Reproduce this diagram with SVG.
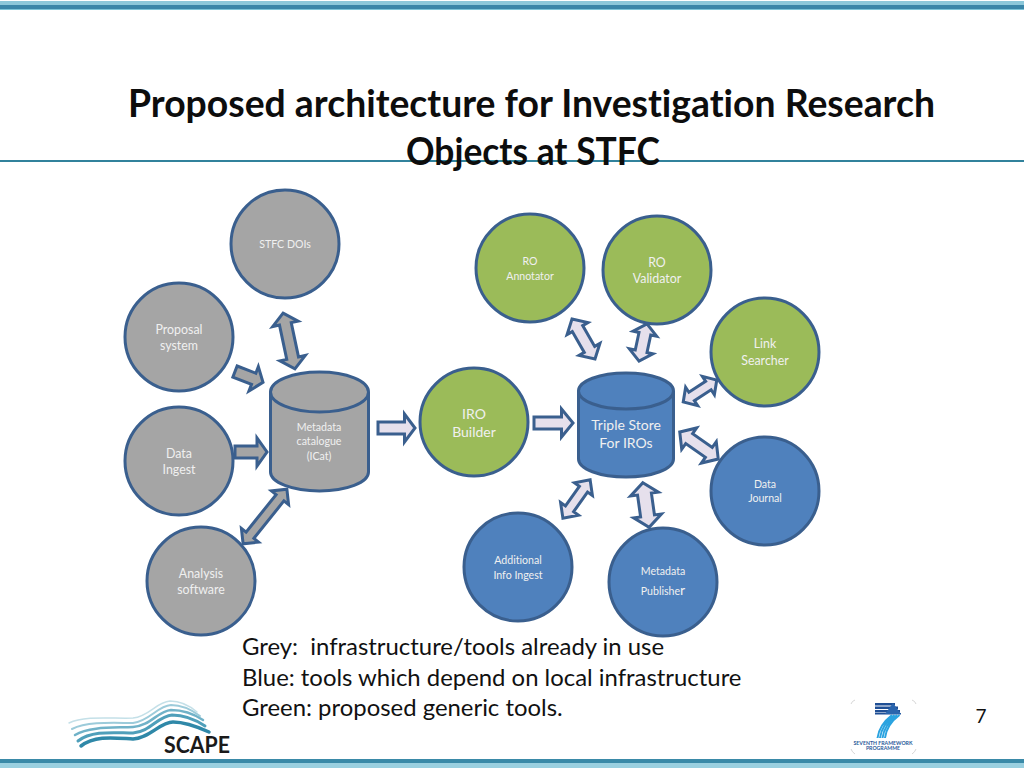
<svg xmlns="http://www.w3.org/2000/svg" width="1024" height="768" viewBox="0 0 1024 768">
<style>
text{font-family:"Lato","Liberation Sans",sans-serif;text-anchor:middle;white-space:pre;font-variant-ligatures:none}
.t{font-size:37.2px;font-weight:700;fill:#0d0d0d}
.l{font-size:23.9px;fill:#111;text-anchor:start}
.n{stroke:#3a5f8e;stroke-width:3}
.g{fill:#a5a5a5}.v{fill:#9bbb59}.b{fill:#4f81bd}.p{fill:#e6e0ec}
.w{fill:#f0f0f0}
.s{font-size:10.6px}.h{font-size:12.4px}
.wave{fill:none;stroke-linecap:round}
.c{fill:none;stroke:#ccc;stroke-width:.8}
</style>
<rect width="1024" height="768" fill="#fff"/>
<g id="frame">
<rect y="1" width="1024" height="4" fill="#8cc8da"/><rect y="5" width="1024" height="4" fill="#3a86a8"/><rect y="9" width="1024" height="1" fill="#7cc4d8"/>
<rect y="759" width="1024" height="4" fill="#3a8aa8"/><rect y="763" width="1024" height="5" fill="#9ad0e0"/>
<rect y="160" width="1024" height="2" fill="#31829c"/>
</g>
<g id="title">
<text class="t" x="531.500" y="116.500" textLength="807" lengthAdjust="spacingAndGlyphs">Proposed architecture for Investigation Research</text>
<text class="t" x="533" y="164.500" textLength="254" lengthAdjust="spacingAndGlyphs">Objects at STFC</text>
</g>
<g id="connectors" class="n">
<polygon class="g" transform="translate(289 341) rotate(78)" points="-28.500,0 -17.500,-13 -17.500,-6 17.500,-6 17.500,-13 28.500,0 17.500,13 17.500,6 -17.500,6 -17.500,13"/>
<polygon class="g" transform="translate(265 516.500) rotate(-51.300)" points="-35,0 -24,-11 -24,-5 24,-5 24,-11 35,0 24,11 24,5 -24,5 -24,11"/>
<polygon class="g" transform="translate(249 377) rotate(21)" points="-15,-6 5,-6 5,-13 15,0 5,13 5,6 -15,6"/>
<polygon class="g" transform="translate(251 452)" points="-16,-6 6,-6 6,-14 16,0 6,14 6,6 -16,6"/>
<polygon class="p" transform="translate(396.500 428)" points="-18.500,-6 8,-6 8,-14 18.500,0 8,14 8,6 -18.500,6"/>
<polygon class="p" transform="translate(553.500 423)" points="-19.500,-6 8,-6 8,-14 19.500,0 8,14 8,6 -19.500,6"/>
<polygon class="p" transform="translate(583.500 339) rotate(60)" points="-23,0 -12,-12 -12,-6 12,-6 12,-12 23,0 12,12 12,6 -12,6 -12,12"/>
<polygon class="p" transform="translate(643 342.500) rotate(102)" points="-19,0 -9,-12 -9,-6 9,-6 9,-12 19,0 9,12 9,6 -9,6 -9,12"/>
<polygon class="p" transform="translate(700 391) rotate(-33)" points="-20,0 -10,-11 -10,-5 10,-5 10,-11 20,0 10,11 10,5 -10,5 -10,11"/>
<polygon class="p" transform="translate(699 445.500) rotate(35)" points="-23.500,0 -12,-13 -12,-6 12,-6 12,-13 23.500,0 12,13 12,6 -12,6 -12,13"/>
<polygon class="p" transform="translate(576.500 499) rotate(-54.600)" points="-23.500,0 -12,-11 -12,-5 12,-5 12,-11 23.500,0 12,11 12,5 -12,5 -12,11"/>
<polygon class="p" transform="translate(646 505) rotate(82)" points="-22.500,0 -11,-14 -11,-7 11,-7 11,-14 22.500,0 11,14 11,7 -11,7 -11,14"/>
</g>
<g id="stfc-dois"><circle class="n g" cx="285" cy="244" r="54"/><text class="s w" x="285" y="248">STFC DOIs</text></g>
<g id="proposal-system"><circle class="n g" cx="179" cy="337" r="54"/><text class="h w" x="179" y="334">Proposal</text><text class="h w" x="179" y="350">system</text></g>
<g id="data-ingest"><circle class="n g" cx="179" cy="461" r="54"/><text class="h w" x="179" y="458">Data</text><text class="h w" x="179" y="474">Ingest</text></g>
<g id="analysis-software"><circle class="n g" cx="201" cy="581" r="54"/><text class="h w" x="201" y="578">Analysis</text><text class="h w" x="201" y="594">software</text></g>
<g id="metadata-catalogue">
<path class="n g" d="M270.500 392A49 20 0 0 1 368.500 392V472A49 19 0 0 1 270.500 472Z"/>
<path class="n" fill="none" d="M270.500 392A49 20 0 0 0 368.500 392"/>
<text class="s w" x="319" y="431">Metadata</text><text class="s w" x="319" y="445">catalogue</text><text class="s w" x="319" y="460">(ICat)</text>
</g>
<g id="ro-annotator"><circle class="n v" cx="530" cy="268" r="54"/><text class="s w" x="530" y="265">RO</text><text class="s w" x="530" y="280">Annotator</text></g>
<g id="ro-validator"><circle class="n v" cx="657" cy="270" r="54"/><text class="h w" x="657" y="267">RO</text><text class="h w" x="657" y="283">Validator</text></g>
<g id="link-searcher"><circle class="n v" cx="765" cy="352" r="54"/><text class="h w" x="765" y="348">Link</text><text class="h w" x="765" y="365">Searcher</text></g>
<g id="iro-builder"><circle class="n v" cx="474" cy="422" r="54"/><text class="w" font-size="14px" x="474" y="419">IRO</text><text class="w" font-size="14px" x="474" y="437">Builder</text></g>
<g id="triple-store">
<path class="n b" d="M578.500 391A47.500 18 0 0 1 673.500 391V459A47.500 18 0 0 1 578.500 459Z"/>
<path class="n" fill="none" d="M578.500 391A47.500 18 0 0 0 673.500 391"/>
<text class="w" font-size="14px" x="626" y="430">Triple Store</text><text class="w" font-size="14px" x="626" y="448">For IROs</text>
</g>
<g id="data-journal"><circle class="n b" cx="765" cy="491" r="54"/><text class="s w" x="765" y="488">Data</text><text class="s w" x="765" y="502">Journal</text></g>
<g id="additional-info"><circle class="n b" cx="518" cy="567" r="54"/><text class="s w" x="518" y="564">Additional</text><text class="s w" x="518" y="579">Info Ingest</text></g>
<g id="metadata-publisher"><circle class="n b" cx="663" cy="582" r="54"/><text class="s w" x="663" y="575">Metadata</text><text class="s w" x="663" y="595">Publishe<tspan font-size="14px">r</tspan></text></g>
<g id="legend">
<text class="l" x="242" y="655">Grey:  infrastructure/tools already in use</text>
<text class="l" x="242" y="686">Blue: tools which depend on local infrastructure</text>
<text class="l" x="242" y="716">Green: proposed generic tools.</text>
</g>
<g id="scape-logo">
<path class="wave" stroke="#c4e0e8" stroke-width="1.500" d="M69 723C85 715 115 719 133 718C150 716 156 702 170 701C180 701 190 706 197 712"/>
<path class="wave" stroke="#9ccbda" stroke-width="2" d="M72 729C88 721 115 723 133 723C150 721 157 706 171 705C182 705 192 710 200 716"/>
<path class="wave" stroke="#70b2c8" stroke-width="2.500" d="M75 735C90 726 115 728 133 727C150 726 158 711 171 710C183 710 194 714 203 720"/>
<path class="wave" stroke="#4f9fba" stroke-width="3" d="M78 741C92 730 115 733 133 733C150 732 158 716 172 715C185 715 196 720 205 726"/>
<path class="wave" stroke="#2f88a8" stroke-width="3.500" d="M81 746C95 735 115 738 133 739C150 738 160 722 173 722C185 722 198 727 209 732"/>
<text x="197" y="753" font-size="23px" font-weight="700" fill="#1a1a1a" textLength="66" lengthAdjust="spacingAndGlyphs">SCAPE</text>
</g>
<g id="fp7-logo">
<path class="c" d="M851 704Q852 701 855 700M912 700Q915 701 916 704M851 749Q852 752 855 754M912 754Q915 752 916 749"/>
<rect x="875" y="703" width="20" height="2.500" fill="#1f4f95"/><rect x="875" y="706.500" width="23" height="2.500" fill="#1f4f95"/><rect x="875" y="710" width="25" height="2.500" fill="#1f4f95"/><rect x="875" y="713" width="26" height="1.500" fill="#1f4f95"/>
<path d="M893 703L901 714H885Z" fill="#2a65ad"/>
<path d="M899.500 715C890 722 886 730 885 738M897 715C888 722 883.500 730 882.500 738M894.500 715C885.500 722 881 730 880 738M892 715C883 722 878.500 730 877.500 738" fill="none" stroke="#2aa3e0" stroke-width="2"/>
<text x="883" y="745" font-size="5.200px" font-weight="700" fill="#2c5b9a">SEVENTH FRAMEWORK</text>
<text x="883" y="750" font-size="5.200px" font-weight="700" fill="#2c5b9a">PROGRAMME</text>
</g>
<text id="page-number" x="981" y="723" font-size="19px" fill="#111">7</text>
</svg>
